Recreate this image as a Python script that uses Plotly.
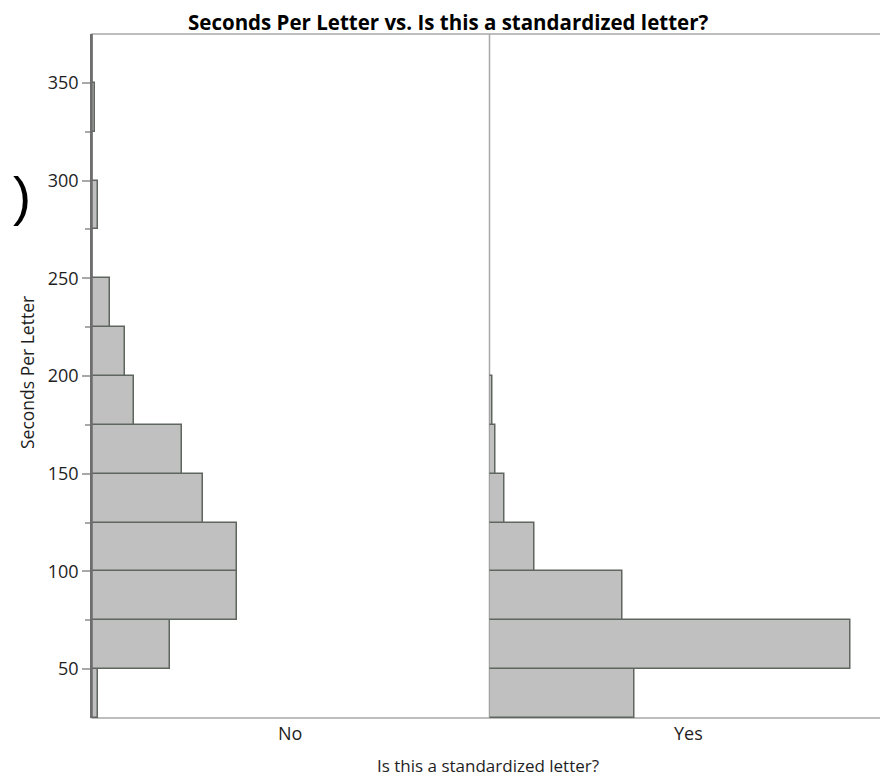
import plotly.graph_objects as go

# ---- data ----
bin_edges = [25, 50, 75, 100, 125, 150, 175, 200, 225, 250, 275, 300, 325, 350, 375]
no_counts = [2, 26, 48, 48, 37, 30, 14, 11, 6, 0, 2, 0, 1, 0]
yes_counts = [48, 120, 44, 15, 5, 2, 1, 0, 0, 0, 0, 0, 0, 0]
panel_labels = ["No", "Yes"]
y_ticks = [50, 100, 150, 200, 250, 300, 350]
y_minor_ticks = [75, 125, 175, 225, 275, 325]

title_text = "Seconds Per Letter vs. Is this a standardized letter?"
y_title = "Seconds Per Letter"
x_title = "Is this a standardized letter?"

# page is drawn with an 8px body margin, so the figure is 880x769
OFF = 8
W, H = 880, 769
ML, MR, MT, MB = 84, 1, 26, 59
PW, PH = W - ML - MR, H - MT - MB

def px(x):  # page pixel -> paper x
    return (x - OFF - ML) / PW

def py(y):  # page pixel -> paper y
    return (H - MB - (y - OFF)) / PH

centers = [(bin_edges[i] + bin_edges[i + 1]) / 2 for i in range(len(bin_edges) - 1)]
widths = [bin_edges[i + 1] - bin_edges[i] for i in range(len(bin_edges) - 1)]

FILL = "#c0c0c0"
EDGE = "#5f665f"
TXT = "#1e1e1e"

fig = go.Figure()
for counts, xa in [(no_counts, "x"), (yes_counts, "x2")]:
    ys = [c for c, n in zip(centers, counts) if n > 0]
    ws = [w for w, n in zip(widths, counts) if n > 0]
    xs = [n for n in counts if n > 0]
    fig.add_trace(go.Bar(
        x=xs, y=ys, width=ws, orientation="h", base=0,
        marker=dict(color=FILL, line=dict(color=EDGE, width=1.5)),
        xaxis=xa, yaxis="y", showlegend=False, hoverinfo="skip",
    ))

xmax = 132
axis_common = dict(range=[0, xmax], showticklabels=False, ticks="", showgrid=False,
                   zeroline=False, showline=False, fixedrange=True)
fig.update_layout(
    width=W, height=H,
    margin=dict(l=ML, r=MR, t=MT, b=MB, pad=0),
    paper_bgcolor="white", plot_bgcolor="white",
    bargap=0,
    xaxis=dict(domain=[0, 0.5], **axis_common),
    xaxis2=dict(domain=[0.5, 1], anchor="y", **axis_common),
    yaxis=dict(
        range=[25, 375], tickvals=y_ticks, ticks="outside", ticklen=8,
        tickcolor="#a8a8a8", tickwidth=1.5,
        showline=True, linecolor="#6e6e6e", linewidth=1.5,
        showgrid=False, zeroline=False,
        tickfont=dict(family="Open Sans", size=18, color=TXT),
        minor=dict(tickvals=y_minor_ticks, ticks="outside", ticklen=5,
                   tickcolor="#a8a8a8", tickwidth=1.5, showgrid=False),
    ),
    font=dict(family="Open Sans", color=TXT),
)

# frame and divider
fig.add_shape(type="rect", xref="paper", yref="paper", x0=0, x1=1, y0=0, y1=1,
              line=dict(color="#a8a8a8", width=1.5), layer="below")
fig.add_shape(type="line", xref="paper", yref="paper", x0=0.5, x1=0.5, y0=0, y1=1,
              line=dict(color="#a8a8a8", width=1.5), layer="below")
fig.add_shape(type="line", xref="paper", yref="paper", x0=0, x1=0, y0=0, y1=1,
              line=dict(color="#6e6e6e", width=1.5), layer="above")

# title
fig.add_annotation(text="<b>" + title_text + "</b>", xref="paper", yref="paper",
                   x=px(448), y=py(22), showarrow=False, xanchor="center", yanchor="middle",
                   font=dict(family="Open Sans", size=20.5, color="black"))
# panel labels
for lbl, cx in zip(panel_labels, [290, 688]):
    fig.add_annotation(text=lbl, xref="paper", yref="paper", x=px(cx), y=py(733),
                       showarrow=False, xanchor="center", yanchor="middle",
                       font=dict(family="Open Sans", size=18, color=TXT))
# axis titles
fig.add_annotation(text=x_title, xref="paper", yref="paper", x=px(488), y=py(765),
                   showarrow=False, xanchor="center", yanchor="middle",
                   font=dict(family="Open Sans", size=17, color=TXT))
fig.add_annotation(text=y_title, xref="paper", yref="paper", x=px(27), y=py(373),
                   showarrow=False, xanchor="center", yanchor="middle", textangle=-90,
                   font=dict(family="Open Sans", size=17.5, color=TXT))
# stray glyph at left edge
fig.add_annotation(text=")", xref="paper", yref="paper", x=px(11), y=py(196),
                   showarrow=False, xanchor="left", yanchor="middle",
                   font=dict(family="Liberation Sans", size=54, color="black"))

fig.write_html("out.html")
